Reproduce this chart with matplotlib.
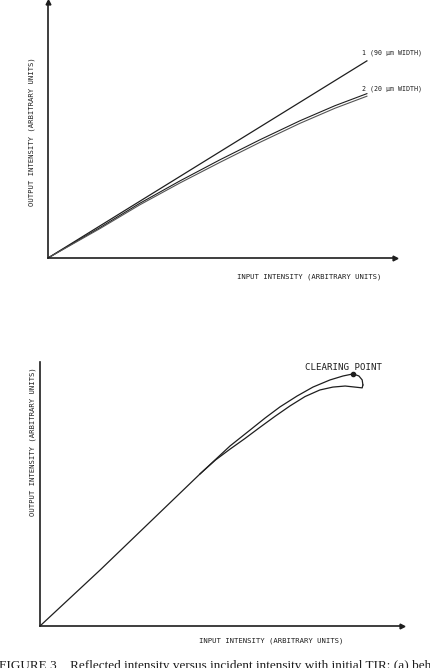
import numpy as np
import matplotlib
matplotlib.use("Agg")
from matplotlib import pyplot as plt

# values (both panels use 0-100 arbitrary units)
line1_x = [0, 91.9]
line1_y = [0, 77.0]

# curve 2 is a narrow up/down pair
line2_x = [0, 15.0, 26.5, 38.0, 49.6, 61.1, 72.6, 82.7, 91.9]
line2a_y = [0, 11.9, 21.4, 30.1, 38.4, 46.2, 53.6, 59.5, 64.2]
line2b_y = [0, 11.5, 20.8, 29.3, 37.4, 45.2, 52.6, 58.5, 63.2]

loop_up_x = [0, 16.6, 30.4, 44.2, 52.5, 58.0, 62.2, 66.3, 71.0, 75.4, 80.1, 83.7, 86.5, 88.1, 89.0, 89.2]
loop_up_y = [0, 21.2, 39.4, 57.6, 68.2, 74.2, 78.8, 83.0, 87.1, 90.5, 93.2, 94.7, 95.5, 94.7, 93.2, 91.3]
loop_down_x = [89.2, 89.0, 87.0, 84.3, 80.9, 77.3, 73.2, 69.1, 64.9, 60.8, 56.6, 52.5, 48.5, 44.2]
loop_down_y = [91.3, 90.2, 90.5, 90.9, 90.5, 89.4, 86.9, 83.4, 79.4, 75.3, 71.0, 67.0, 62.9, 57.6]
clear_x = [86.5]
clear_y = [95.5]

mono = "DejaVu Sans Mono"
ink = "#1e1e1e"

fig = plt.figure(figsize=(4.31, 6.68), dpi=100)

def setup(ax):
    ax.set_xlim(0, 100)
    ax.set_ylim(0, 100)
    for s in ["top", "right"]:
        ax.spines[s].set_visible(False)
    for s in ["left", "bottom"]:
        ax.spines[s].set_linewidth(1.2)
        ax.spines[s].set_color(ink)
    ax.set_xticks([])
    ax.set_yticks([])
    ax.plot(1, 0, ">", color=ink, ms=3.5, transform=ax.transAxes, clip_on=False)

# top panel
ax1 = fig.add_axes([48 / 431, 1 - 258 / 668, 347 / 431, 256 / 668])
setup(ax1)
ax1.plot(0, 1, "^", color=ink, ms=3.5, transform=ax1.transAxes, clip_on=False)
ax1.plot(line1_x, line1_y, color=ink, lw=0.9)
ax1.plot(line2_x, line2a_y, color=ink, lw=0.8)
ax1.plot(line2_x, line2b_y, color="#555555", lw=0.8)
ax1.text(90.5, 80.1, "1 (90 μm WIDTH)", family=mono, fontsize=4.8, va="center", color=ink, clip_on=False)
ax1.text(90.5, 66.0, "2 (20 μm WIDTH)", family=mono, fontsize=4.8, va="center", color=ink, clip_on=False)
ax1.text(75.2, -7.4, "INPUT INTENSITY (ARBITRARY UNITS)", family=mono, fontsize=5.2,
         ha="center", va="center", color=ink)
ax1.text(-4.6, 49.2, "OUTPUT INTENSITY (ARBITRARY UNITS)", family=mono, fontsize=5.2,
         ha="center", va="center", rotation=90, color=ink)

# bottom panel
ax2 = fig.add_axes([40 / 431, 1 - 626 / 668, 362 / 431, 264 / 668])
setup(ax2)
ax2.plot(loop_up_x, loop_up_y, color=ink, lw=0.9)
ax2.plot(loop_down_x, loop_down_y, color=ink, lw=0.9)
ax2.plot(clear_x, clear_y, "o", color=ink, ms=3)
ax2.text(73.2, 97.9, "CLEARING POINT", family=mono, fontsize=6.6, va="center", color=ink, clip_on=False)
ax2.text(63.8, -5.7, "INPUT INTENSITY (ARBITRARY UNITS)", family=mono, fontsize=5.2,
         ha="center", va="center", color=ink)
ax2.text(-1.9, 69.8, "OUTPUT INTENSITY (ARBITRARY UNITS)", family=mono, fontsize=5.2,
         ha="center", va="center", rotation=90, color=ink)

# caption, cut by the bottom edge as in the reference
fig.text(-0.003, 1 - 660 / 668,
         "FIGURE 3    Reflected intensity versus incident intensity with initial TIR: (a) behaviour",
         family="Liberation Serif", fontsize=9.5, va="top", ha="left", color=ink)

fig.savefig("out.png", dpi=100)
